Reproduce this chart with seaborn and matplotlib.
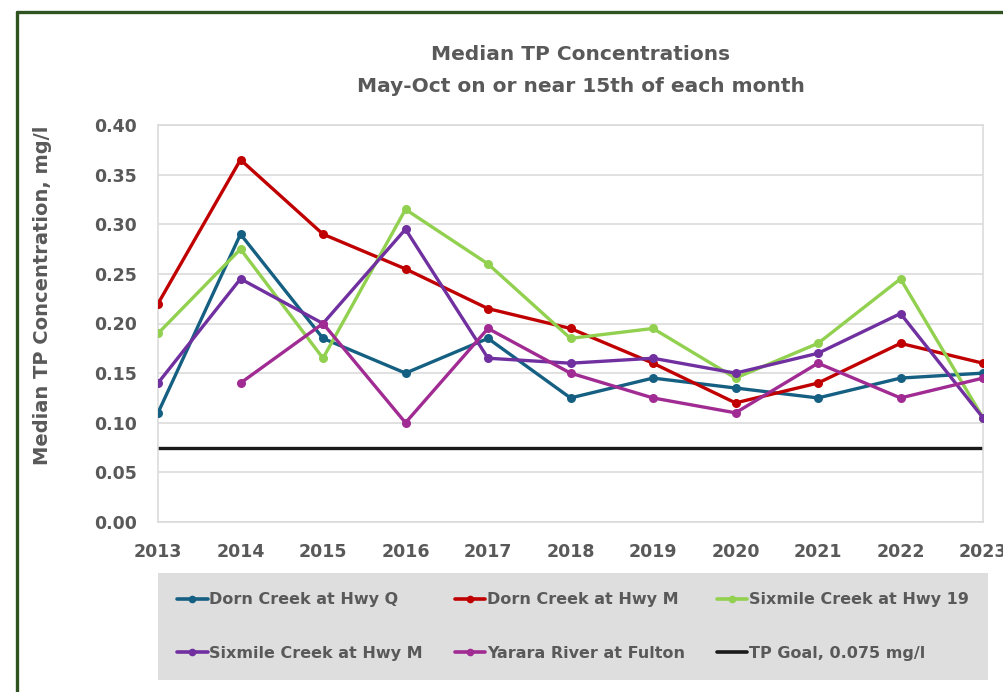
import numpy as np
import pandas as pd
import seaborn as sns
import matplotlib
matplotlib.use("Agg")
import matplotlib.pyplot as plt
from matplotlib.lines import Line2D

# ---- data -------------------------------------------------------------
years = [2013, 2014, 2015, 2016, 2017, 2018, 2019, 2020, 2021, 2022, 2023]

dorn_q = [0.110, 0.290, 0.185, 0.150, 0.185, 0.125, 0.145, 0.135, 0.125, 0.145, 0.150]
dorn_m = [0.220, 0.365, 0.290, 0.255, 0.215, 0.195, 0.160, 0.120, 0.140, 0.180, 0.160]
sixmile_19 = [0.190, 0.275, 0.165, 0.315, 0.260, 0.185, 0.195, 0.145, 0.180, 0.245, 0.105]
sixmile_m = [0.140, 0.245, 0.200, 0.295, 0.165, 0.160, 0.165, 0.150, 0.170, 0.210, 0.105]
yahara = [np.nan, 0.140, 0.200, 0.100, 0.195, 0.150, 0.125, 0.110, 0.160, 0.125, 0.145]

tp_goal = 0.075

series_names = ["Dorn Creek at Hwy Q", "Dorn Creek at Hwy M", "Sixmile Creek at Hwy 19",
                "Sixmile Creek at Hwy M", "Yarara River at Fulton"]
series_values = [dorn_q, dorn_m, sixmile_19, sixmile_m, yahara]
series_colors = ["#156082", "#C00000", "#92D050", "#7030A0", "#A02B93"]
goal_label = "TP Goal, 0.075 mg/l"

title_lines = ["Median TP Concentrations", "May-Oct on or near 15th of each month"]
y_label = "Median TP Concentration, mg/l"

# ---- style ------------------------------------------------------------
sns.set_theme(style="white")
plt.rcParams["font.family"] = ["DejaVu Sans"]

text_gray = "#595959"
grid_gray = "#D9D9D9"

# ---- figure -----------------------------------------------------------
W, H = 1004, 692
fig = plt.figure(figsize=(W / 100, H / 100), dpi=100)
fig.patch.set_facecolor("white")

ax = fig.add_axes([158 / W, 1 - 522 / H, (983 - 158) / W, (522 - 125) / H])

long = pd.DataFrame({
    "year": np.tile(years, len(series_names)),
    "value": np.concatenate(series_values),
    "site": np.repeat(series_names, len(years)),
})
sns.lineplot(data=long, x="year", y="value", hue="site", hue_order=series_names,
             palette=series_colors, marker="o", markersize=6.5, markeredgewidth=0,
             linewidth=2.4, legend=False, ax=ax, zorder=3)
ax.axhline(tp_goal, color="#1a1a1a", linewidth=2.4, zorder=2)

ax.set_xlim(years[0], years[-1])
ax.set_ylim(0, 0.40)
yt = np.arange(0, 0.401, 0.05)
ax.set_yticks(yt)
ax.set_yticklabels([f"{v:.2f}" for v in yt])
ax.set_xticks(years)
ax.set_xticklabels([str(y) for y in years])
ax.grid(axis="y", color=grid_gray, linewidth=1.1)
ax.set_axisbelow(True)
for sp in ax.spines.values():
    sp.set_color(grid_gray)
    sp.set_linewidth(1.1)
ax.tick_params(axis="x", direction="in", length=4.5, width=1, color=grid_gray, pad=15,
               labelsize=12.5, labelcolor=text_gray)
ax.tick_params(axis="y", length=0, pad=15, labelsize=12.5, labelcolor=text_gray)
for lab in ax.get_xticklabels() + ax.get_yticklabels():
    lab.set_fontweight("bold")
ax.set_xlabel("")
ax.set_ylabel(y_label, fontsize=14, fontweight="bold", color=text_gray)
ax.yaxis.set_label_coords(-0.128, 0.57)

# ---- title ------------------------------------------------------------
fig.text(581 / W, 1 - 54 / H, title_lines[0], ha="center", va="center",
         fontsize=14.5, fontweight="bold", color=text_gray)
fig.text(581 / W, 1 - 86 / H, title_lines[1], ha="center", va="center",
         fontsize=14.5, fontweight="bold", color=text_gray)

# ---- legend -----------------------------------------------------------
handles = [Line2D([], [], color=c, linewidth=2.6, marker="o", markersize=5.5, markeredgewidth=0)
           for c in series_colors]
handles.append(Line2D([], [], color="#1a1a1a", linewidth=2.6))
labels = series_names + [goal_label]
# column-major fill order so the entries read across in rows of three
order = [0, 3, 1, 4, 2, 5]
leg = fig.legend([handles[i] for i in order], [labels[i] for i in order],
                 loc="center", ncol=3, mode="expand",
                 bbox_to_anchor=(158 / W, 1 - 681 / H, (988 - 158) / W, (681 - 572) / H),
                 frameon=True, facecolor="#DEDEDE", edgecolor="none", fancybox=False,
                 framealpha=1, handlelength=1.9, handletextpad=0.1, labelspacing=2.4,
                 borderpad=1.2, borderaxespad=0, columnspacing=1.0,
                 prop={"weight": "bold", "size": 11.5})
for t in leg.get_texts():
    t.set_color(text_gray)

# ---- outer border -----------------------------------------------------
border = "#2F5321"
fig.add_artist(Line2D([17.5 / W, 17.5 / W], [0, 1 - 11.5 / H], color=border, linewidth=2.4,
                      transform=fig.transFigure))
fig.add_artist(Line2D([17.5 / W, 1], [1 - 11.5 / H, 1 - 11.5 / H], color=border, linewidth=2.4,
                      transform=fig.transFigure))

fig.savefig("out.png", dpi=100, facecolor="white")
